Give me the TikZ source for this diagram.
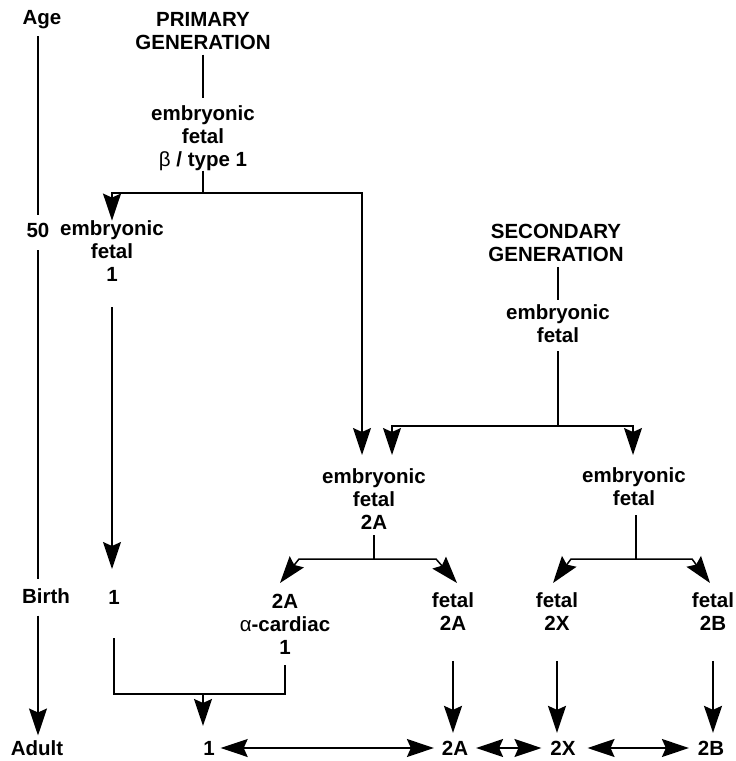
\documentclass[tikz,border=0pt]{standalone}
\usepackage{fontspec}
\setmainfont{Liberation Sans}
\usetikzlibrary{arrows.meta,calc}
\begin{document}
\begin{tikzpicture}[x=1pt,y=-1pt,
  lbl/.style={font=\bfseries\fontsize{20.5}{23}\selectfont, align=center, inner sep=0pt, outer sep=0pt},
  ln/.style={line width=1.5pt},
  >={Stealth[length=27pt,width=18pt,inset=4pt]}]
\useasboundingbox (0,0) rectangle (736,761);

% axis labels
\node[lbl] (age) at (42,20) {Age};
\node[lbl] (fifty) at (38,230) {50};
\node[lbl] (birth) at (46,596) {Birth};
\node[lbl] (adult) at (37,748) {Adult};

% primary
\node[lbl] (prim) at (203,31) {PRIMARY\\GENERATION};
\node[lbl] (pe) at (203,138) {embryonic\\fetal\\{\mdseries β} / type 1};
\node[lbl] (l1) at (112,251) {embryonic\\fetal\\1};

% secondary
\node[lbl] (sec) at (556,243) {SECONDARY\\GENERATION};
\node[lbl] (se) at (558,324) {embryonic\\fetal};
\node[lbl] (m2a) at (374,499) {embryonic\\fetal\\2A};
\node[lbl] (mr) at (634,487) {embryonic\\fetal};

% birth row
\node[lbl] (b1) at (114,597) {1};
\node[lbl] (bac) at (285,624) {2A\\{\mdseries α}-cardiac\\1};
\node[lbl] (b2a) at (453,612) {fetal\\2A};
\node[lbl] (b2x) at (557,612) {fetal\\2X};
\node[lbl] (b2b) at (713,612) {fetal\\2B};

% adult row
\node[lbl] (a1) at (209,748) {1};
\node[lbl] (a2a) at (455,748) {2A};
\node[lbl] (a2x) at (563,748) {2X};
\node[lbl] (a2b) at (711,748) {2B};

% junctions and free ends
\coordinate (j1) at (203,193);
\coordinate (t1) at (362,455);
\coordinate (j2) at (558,426);
\coordinate (t2) at (392,455);
\coordinate (t3) at (633,455);
\coordinate (j3) at (374,559);
\coordinate (c3l) at (299,559);
\coordinate (t4) at (280,583);
\coordinate (c3r) at (436,559);
\coordinate (t5) at (457,583);
\coordinate (j4) at (636,559);
\coordinate (c4l) at (571,559);
\coordinate (t6) at (553,583);
\coordinate (c4r) at (692,559);
\coordinate (t7) at (710,583);
\coordinate (t8) at (112,569);
\coordinate (j5) at (114,694);
\coordinate (j6) at (285,694);
\coordinate (m5) at (203,694);

% age axis
\draw[ln] ($(fifty.north |- age.south)+(0,7)$) -- ($(fifty.north)+(0,-8)$);
\draw[ln] ($(fifty.south)+(0,13)$) -- ($(fifty.south |- birth.north)+(0,-9)$);
\draw[ln,->] ($(fifty.south |- birth.south)+(0,12)$) -- ($(fifty.south |- adult.north)+(0,-5)$);

% primary generation
\draw[ln] ($(prim.south)+(0,5)$) -- ($(pe.north)+(0,-7)$);
\draw[ln] (pe.south) -- (j1);
\draw[ln,->] (j1) -| (l1.north);
\draw[ln,->] (j1) -| (t1);
\draw[ln,->] ($(l1.south)+(0,26)$) -- (t8);

% secondary generation
\draw[ln] ($(se.north |- sec.south)+(0,5)$) -- ($(se.north)+(0,-5)$);
\draw[ln] ($(se.south)+(0,8)$) -- (j2);
\draw[ln,->] (j2) -| (t2);
\draw[ln,->] (j2) -| (t3);

% 2A branch
\draw[ln] ($(m2a.south)+(0,6)$) -- (j3);
\draw[ln,->] (j3) -- (c3l) -- (t4);
\draw[ln,->] (j3) -- (c3r) -- (t5);

% right branch
\draw[ln] (j4) -- ($(mr.south -| j4)+(0,9)$);
\draw[ln,->] (j4) -- (c4l) -- (t6);
\draw[ln,->] (j4) -- (c4r) -- (t7);

% merge to adult 1
\draw[ln] ($(b1.south)+(0,34)$) -- (j5) -- (j6) -- ($(bac.south)+(0,11)$);
\draw[ln,->] (m5) -- ($(m5 |- a1.north)+(0,-15)$);

% fetal to adult
\draw[ln,->] ($(b2a.south)+(0,30)$) -- ($(b2a.south |- a2a.north)+(0,-8)$);
\draw[ln,->] ($(b2x.south)+(0,30)$) -- ($(b2x.south |- a2x.north)+(0,-8)$);
\draw[ln,->] ($(b2b.south)+(0,30)$) -- ($(b2b.south |- a2b.north)+(0,-8)$);

% adult interconversions
\draw[ln,<->] ($(a1.east)+(6,0)$) -- ($(a2a.west)+(-8,0)$);
\draw[ln,<->] ($(a2a.east)+(8,0)$) -- ($(a2x.west)+(-9,0)$);
\draw[ln,<->] ($(a2x.east)+(12,0)$) -- ($(a2b.west)+(-9,0)$);
\end{tikzpicture}
\end{document}
